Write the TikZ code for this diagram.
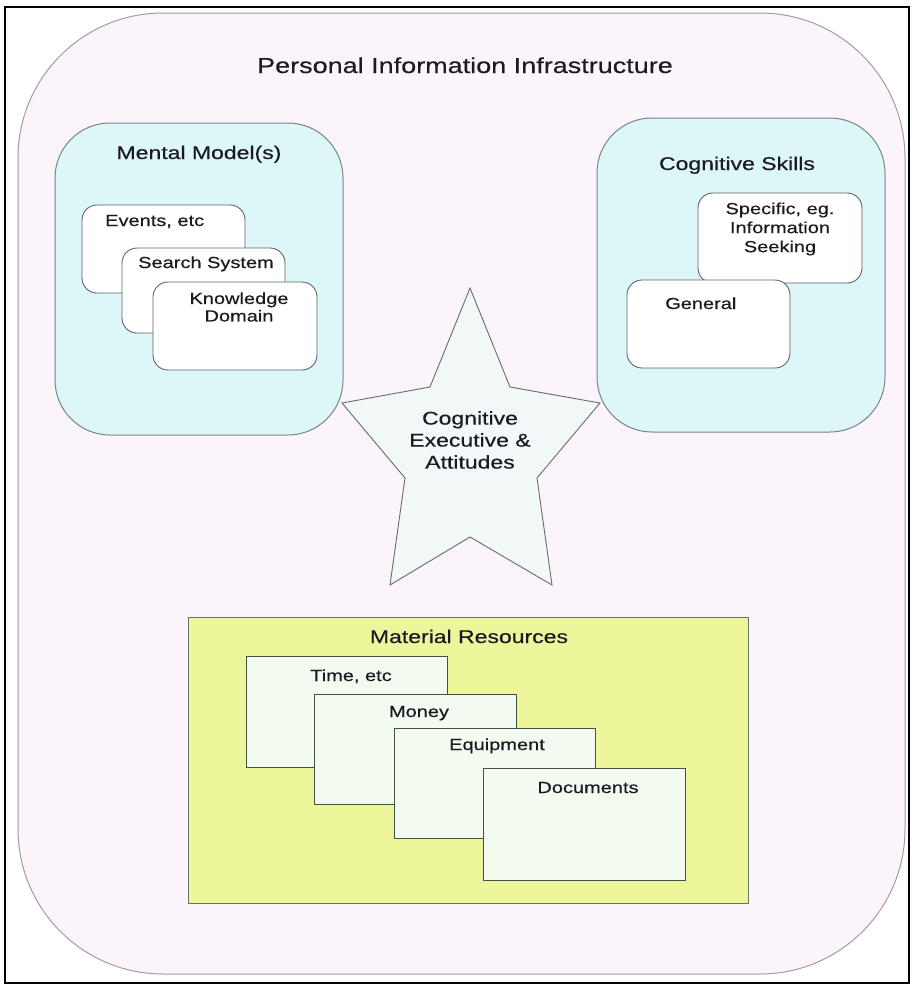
\documentclass[tikz,border=0pt]{standalone}
\usepackage{fontspec}
\setmainfont{Liberation Sans}[FakeStretch=1.25,FakeBold=0.4]
\definecolor{outerfill}{HTML}{FCF4FB}
\definecolor{outerline}{HTML}{A898A8}
\definecolor{cyanfill}{HTML}{DDF6F8}
\definecolor{cyanline}{HTML}{76848A}
\definecolor{cardline}{HTML}{5E6266}
\definecolor{matfill}{HTML}{EEF69C}
\definecolor{matline}{HTML}{6A7462}
\definecolor{sheetfill}{HTML}{F3FAEF}
\definecolor{sheetline}{HTML}{3F553F}
\definecolor{starfill}{HTML}{F2F7F7}
\definecolor{starline}{HTML}{6A6A6E}
\definecolor{txt}{HTML}{1A1A24}
\tikzset{
  frame/.style={draw=black, line width=1.2pt},
  outerbox/.style={draw=outerline, fill=outerfill, line width=1pt, rounded corners=145pt},
  grp/.style={draw=cyanline, fill=cyanfill, line width=1pt, rounded corners=55pt, inner sep=0pt, outer sep=0pt, anchor=north west},
  card/.style={draw=cardline, fill=white, line width=0.9pt, rounded corners=15pt, inner sep=0pt, outer sep=0pt, anchor=north west},
  matbox/.style={draw=matline, fill=matfill, line width=1pt, inner sep=0pt, outer sep=0pt, anchor=north west},
  sheet/.style={draw=sheetline, fill=sheetfill, line width=0.9pt, inner sep=0pt, outer sep=0pt, anchor=north west},
  ttlstyle/.style={font=\fontsize{21.6}{26}\selectfont, text=txt, inner sep=0pt, anchor=base},
  hdr/.style={font=\fontsize{18.4}{22}\selectfont, text=txt, inner sep=0pt, anchor=base},
  lbl/.style={font=\fontsize{16}{17.5}\selectfont, text=txt, inner sep=0pt},
  startxt/.style={font=\fontsize{18.4}{22}\selectfont, text=txt, inner sep=0pt, align=center},
  starshape/.style={draw=starline, fill=starfill, line width=0.9pt, line join=miter},
}
\begin{document}
\begin{tikzpicture}[x=1pt,y=-1pt]
\useasboundingbox (0,0) rectangle (912,986);
\fill[white] (0,0) rectangle (912,986);
\draw[frame] (5,7) rectangle (909,983);
% outer infrastructure
\draw[outerbox] (18,13) rectangle (905,974);
\node[ttlstyle] (ttl) at (465,73) {Personal Information Infrastructure};
% mental models
\node[grp, minimum width=288pt, minimum height=312pt] (mm) at (55,123) {};
\node[hdr] (mmt) at (199,159) {Mental Model(s)};
\node[card, minimum width=163pt, minimum height=88pt] (ev) at (82,205) {};
\node[lbl, anchor=base west] (evt) at (105,226) {Events, etc};
\node[card, minimum width=163pt, minimum height=85pt] (ss) at (122,248) {};
\node[lbl, anchor=base west] (sst) at (138,268) {Search System};
\node[card, minimum width=164pt, minimum height=88pt] (kd) at (153,282) {};
\node[lbl, align=center] (kdt) at (239,307) {Knowledge\\Domain};
% cognitive skills
\node[grp, minimum width=288pt, minimum height=314pt] (cs) at (597,118) {};
\node[hdr] (cst) at (737,170) {Cognitive Skills};
\node[card, minimum width=164pt, minimum height=90pt] (sp) at (698,193) {};
\node[lbl, align=center, font=\fontsize{16}{19}\selectfont] (spt) at (780,229) {Specific, eg.\\Information\\Seeking};
\node[card, minimum width=163pt, minimum height=88pt] (gn) at (627,280) {};
\node[lbl, anchor=base west] (gnt) at (665,309) {General};
% star
\coordinate (s1) at (470,288);
\coordinate (s2) at (510,387);
\coordinate (s3) at (600,403);
\coordinate (s4) at (537,478);
\coordinate (s5) at (552,585);
\coordinate (s6) at (470,537);
\coordinate (s7) at (390,585);
\coordinate (s8) at (405,478);
\coordinate (s9) at (342,403);
\coordinate (s10) at (430,387);
\draw[starshape] (s1) -- (s2) -- (s3) -- (s4) -- (s5) -- (s6) -- (s7) -- (s8) -- (s9) -- (s10) -- cycle;
\node[startxt] (stt) at (470,440) {Cognitive\\Executive \&\\Attitudes};
% material resources
\node[matbox, minimum width=560pt, minimum height=286pt] (mr) at (188,617) {};
\node[hdr] (mrt) at (469,643) {Material Resources};
\node[sheet, minimum width=201pt, minimum height=111pt] (tm) at (246,656) {};
\node[lbl, anchor=base] (tmt) at (351,681) {Time, etc};
\node[sheet, minimum width=202pt, minimum height=110pt] (mo) at (314,694) {};
\node[lbl, anchor=base] (mot) at (419,717) {Money};
\node[sheet, minimum width=201pt, minimum height=110pt] (eq) at (394,728) {};
\node[lbl, anchor=base] (eqt) at (497,750) {Equipment};
\node[sheet, minimum width=202pt, minimum height=112pt] (dc) at (483,768) {};
\node[lbl, anchor=base] (dct) at (588,793) {Documents};
\end{tikzpicture}
\end{document}
